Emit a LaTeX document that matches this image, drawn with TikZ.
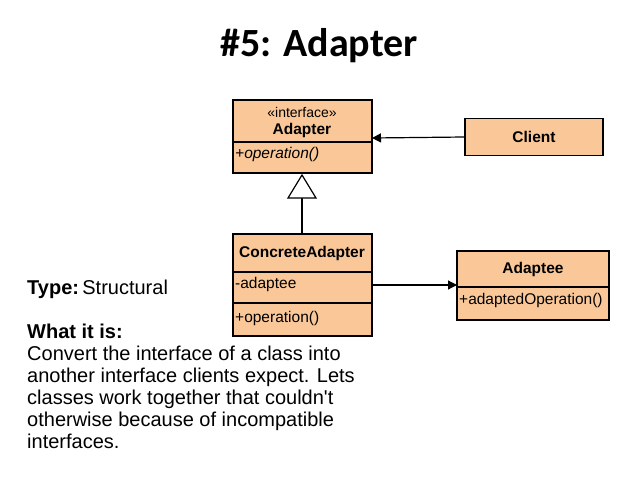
\documentclass[tikz,border=0pt]{standalone}
\usepackage{fontspec}
\setmainfont{Liberation Sans}
\newfontfamily\titlefont{Carlito}
\usetikzlibrary{arrows.meta,positioning}
\definecolor{boxfill}{RGB}{250,200,152}
\begin{document}
\begin{tikzpicture}[x=1pt,y=-1pt]
  \tikzstyle{umlbox} = [draw, line width=1.3pt, fill=boxfill]
  \tikzstyle{arrow} = [line width=1.2pt, -{Triangle[length=9pt,width=9pt]}]
  \tikzstyle{member} = [anchor=west, inner sep=1pt, font=\fontsize{15.5}{18}\selectfont]
  \tikzstyle{classname} = [font=\fontsize{15.5}{18}\selectfont\bfseries]
  \useasboundingbox (0,0) rectangle (638,479);

  \node[font=\titlefont\fontsize{40}{46}\selectfont\bfseries] (title) at (319,46) {\#5: Adapter};

  % Adapter interface
  \draw[umlbox] (233,100) rectangle (372,173);
  \draw[line width=1.3pt] (233,142) -- (372,142);
  \node[font=\fontsize{14}{16}\selectfont] (stereo) at (302,112) {«interface»};
  \node[classname] (adapter) at (302,130) {Adapter};
  \node[member, font=\fontsize{15.5}{18}\selectfont\itshape] (adapterop) at (234,154) {+operation()};
  \coordinate (adapterright) at (372,138);
  \coordinate (tip) at (302,175);

  % Client
  \node[umlbox, minimum width=138pt, minimum height=37pt, classname] (client) at (534,137) {Client};

  % ConcreteAdapter
  \draw[umlbox] (233,234) rectangle (372,336);
  \draw[line width=1.3pt] (233,272) -- (372,272) (233,303) -- (372,303);
  \node[classname] (concrete) at (302,253) {ConcreteAdapter};
  \node[member] (adaptee field) at (234,284) {-adaptee};
  \node[member] (concreteop) at (234,318) {+operation()};
  \coordinate (concretetop) at (302,234);
  \coordinate (concreteright) at (372,285);

  % Adaptee
  \draw[umlbox] (457,251) rectangle (609,320);
  \draw[line width=1.3pt] (457,287) -- (609,287);
  \node[classname] (adaptee) at (533,269) {Adaptee};
  \node[member] (adapteeop) at (458,300) {+adaptedOperation()};
  \coordinate (adapteeleft) at (457,285);

  % connectors
  \draw[arrow] (client.west) -- (adapterright);
  \draw[arrow] (concreteright) -- (adapteeleft);
  \draw[line width=1.2pt] (concretetop) -- (302,198);
  \draw[line width=1.2pt, fill=white] (tip) -- (316,198) -- (288,198) -- cycle;

  % description
  \node[anchor=west, inner sep=0pt, font=\fontsize{20}{22}\selectfont] (type) at (27,289) {\textbf{Type:}\,Structural};
  \node[anchor=north west, inner sep=0pt, align=left, font=\fontsize{20}{22}\selectfont] (what) at (27,324)
    {\textbf{What it is:}\\Convert the interface of a class into\\another interface clients expect. Lets\\classes work together that couldn\textquotesingle t\\otherwise because of incompatible\\interfaces.};
\end{tikzpicture}
\end{document}
